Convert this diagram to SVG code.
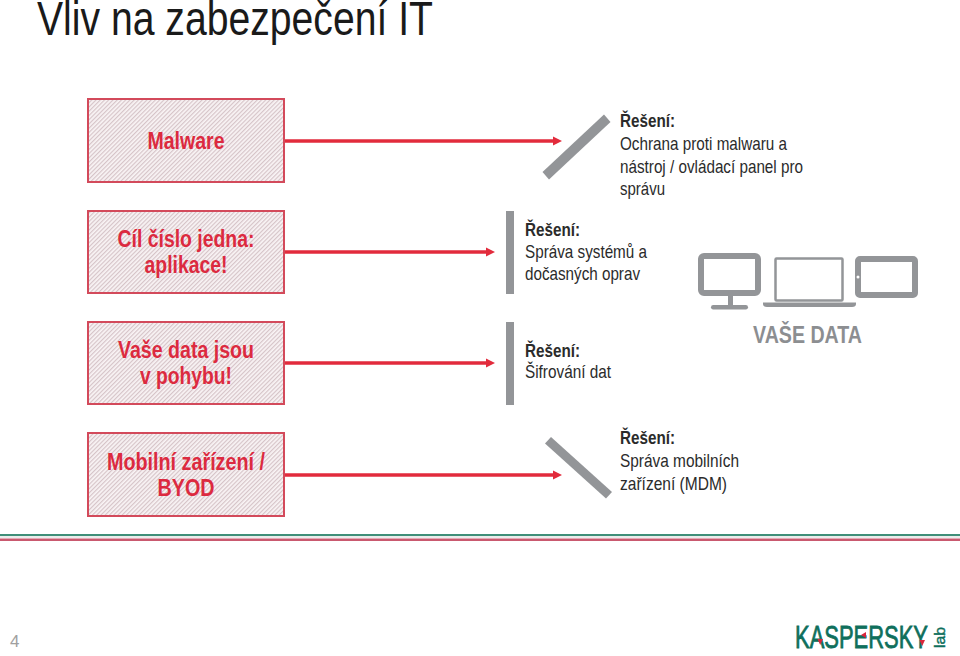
<svg xmlns="http://www.w3.org/2000/svg" width="960" height="656" viewBox="0 0 960 656">
<style>
text{font-family:"Liberation Sans",Arial,sans-serif}
.box{fill:url(#hatch);stroke:#d34a5b;stroke-width:2}
.lbl{font-size:23px;font-weight:700;fill:#dc2a3f;text-anchor:middle}
.sol{font-size:18.5px;fill:#2b2b2b}
.b{font-weight:700}
.arr{stroke:#e22b3c;stroke-width:3.4;fill:none;marker-end:url(#ah)}
.bar{fill:#939598}
.dev{fill:none;stroke:#939598}
.logo{fill:#0f6f5c;stroke:#0f6f5c}
</style>
<defs>
<pattern id="hatch" width="3" height="3" patternUnits="userSpaceOnUse" patternTransform="rotate(45)">
<rect width="3" height="3" fill="#f9f4f5"/><rect width="1.200" height="3" fill="#d6c4c8"/>
</pattern>
<marker id="ah" markerUnits="userSpaceOnUse" markerWidth="10" markerHeight="10" refX="0" refY="5" orient="auto" overflow="visible"><path d="M0,0.5 L9,5 L0,9.5Z" fill="#e22b3c"/></marker>
</defs>
<rect width="960" height="656" fill="#fff"/>
<text id="title" x="37" y="35" font-size="48" fill="#1a1a1a" textLength="396" lengthAdjust="spacingAndGlyphs">Vliv na zabezpečení IT</text>

<g id="connectors">
<path class="arr" d="M285 141H553"/>
<path class="arr" d="M285 252H486"/>
<path class="arr" d="M285 363H486"/>
<path class="arr" d="M285 475H553"/>
</g>

<g id="node-malware"><rect class="box" x="88" y="99" width="196" height="83"/>
<text class="lbl" x="186" y="149" textLength="77" lengthAdjust="spacingAndGlyphs">Malware</text></g>
<g id="node-aplikace"><rect class="box" x="88" y="211" width="196" height="82"/>
<text class="lbl" x="186" y="247" textLength="137" lengthAdjust="spacingAndGlyphs">Cíl číslo jedna:</text>
<text class="lbl" x="186" y="273" textLength="83" lengthAdjust="spacingAndGlyphs">aplikace!</text></g>
<g id="node-data"><rect class="box" x="88" y="322" width="196" height="82"/>
<text class="lbl" x="186" y="358" textLength="136" lengthAdjust="spacingAndGlyphs">Vaše data jsou</text>
<text class="lbl" x="186" y="384" textLength="92" lengthAdjust="spacingAndGlyphs">v pohybu!</text></g>
<g id="node-byod"><rect class="box" x="88" y="433" width="196" height="83"/>
<text class="lbl" x="186" y="470" textLength="158" lengthAdjust="spacingAndGlyphs">Mobilní zařízení /</text>
<text class="lbl" x="186" y="496" textLength="57" lengthAdjust="spacingAndGlyphs">BYOD</text></g>

<g id="solution-1"><path class="bar" d="M604 114.500L610.500 122L549 179.500L542.500 172Z"/>
<text class="sol b" x="620" y="127" textLength="55" lengthAdjust="spacingAndGlyphs">Řešení:</text>
<text class="sol" x="620" y="150" textLength="167" lengthAdjust="spacingAndGlyphs">Ochrana proti malwaru a</text>
<text class="sol" x="620" y="173" textLength="183" lengthAdjust="spacingAndGlyphs">nástroj / ovládací panel pro</text>
<text class="sol" x="620" y="195" textLength="45" lengthAdjust="spacingAndGlyphs">správu</text></g>
<g id="solution-2"><rect class="bar" x="506" y="211" width="8" height="83"/>
<text class="sol b" x="525" y="236" textLength="55" lengthAdjust="spacingAndGlyphs">Řešení:</text>
<text class="sol" x="525" y="258" textLength="122" lengthAdjust="spacingAndGlyphs">Správa systémů a</text>
<text class="sol" x="525" y="280" textLength="115" lengthAdjust="spacingAndGlyphs">dočasných oprav</text></g>
<g id="solution-3"><rect class="bar" x="506" y="322" width="8" height="83"/>
<text class="sol b" x="525" y="357" textLength="55" lengthAdjust="spacingAndGlyphs">Řešení:</text>
<text class="sol" x="525" y="378" textLength="86" lengthAdjust="spacingAndGlyphs">Šifrování dat</text></g>
<g id="solution-4"><path class="bar" d="M551 437L612 492L606 498.500L545 443.500Z"/>
<text class="sol b" x="620" y="444" textLength="55" lengthAdjust="spacingAndGlyphs">Řešení:</text>
<text class="sol" x="620" y="467" textLength="119" lengthAdjust="spacingAndGlyphs">Správa mobilních</text>
<text class="sol" x="620" y="490" textLength="107" lengthAdjust="spacingAndGlyphs">zařízení (MDM)</text></g>

<g id="devices">
<rect class="dev" x="701" y="256" width="57" height="37" rx="3" stroke-width="6"/>
<rect class="bar" x="728" y="296" width="5" height="9"/>
<rect class="bar" x="711" y="305" width="37" height="4.500" rx="2.200"/>
<rect class="dev" x="775.500" y="258.500" width="67" height="42" rx="1" stroke-width="2.500"/>
<path class="bar" d="M763 302.500H856V304Q856 307 852 307H767Q763 307 763 304Z"/>
<rect class="dev" x="858" y="259" width="57" height="36" rx="2" stroke-width="6"/>
<circle cx="858" cy="277" r="1.500" fill="#fff"/>
<text x="807.500" y="343" font-size="24" font-weight="700" fill="#8c8e91" text-anchor="middle" textLength="109" lengthAdjust="spacingAndGlyphs">VAŠE DATA</text>
</g>

<g id="footer">
<rect x="0" y="534" width="960" height="2" fill="#3f8f79"/>
<rect x="0" y="536" width="960" height="2" fill="#e9eeec"/>
<rect x="0" y="538.500" width="960" height="2.500" fill="#c9596f"/>
<text x="10" y="647" font-size="17" fill="#a0a0a0">4</text>
<text class="logo" x="795" y="648" font-size="32" stroke-width="0.800" textLength="133" lengthAdjust="spacingAndGlyphs">KASPERSKY</text>
<text class="logo" transform="translate(945 648) rotate(-90)" font-size="14" stroke-width="0.400" textLength="21" lengthAdjust="spacingAndGlyphs">lab</text>
<path d="M817.500 639H823L820.200 645Z M866 632V638L861 635Z M919.500 640H925L922.200 646Z" fill="#d8273b"/>
</g>
</svg>
